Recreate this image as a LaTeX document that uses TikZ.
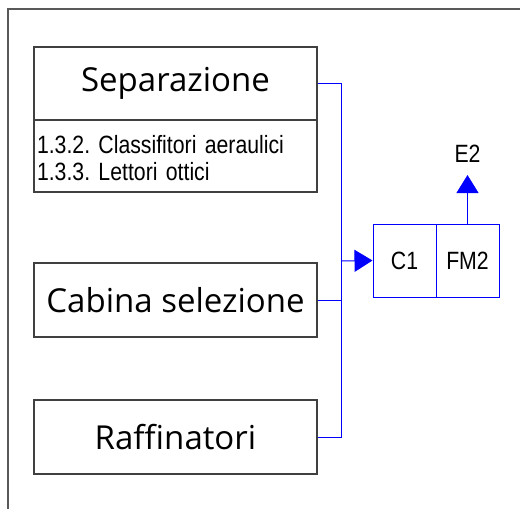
\documentclass[tikz,border=0pt]{standalone}
\usepackage{fontspec}
\setmainfont{Open Sans}
\newfontfamily\arialn[FakeStretch=0.85]{Liberation Sans}
\usetikzlibrary{arrows.meta}
\frenchspacing

\begin{document}
\begin{tikzpicture}
[x=1pt,y=-1pt,
 box/.style={draw=black!75,line width=1.2pt,minimum width=283pt,inner sep=0pt},
 bigbox/.style={box,minimum height=74pt,font=\fontsize{33}{38}\selectfont},
 cell/.style={draw=blue,line width=1pt,minimum width=63pt,minimum height=73pt,inner sep=0pt,font=\arialn\fontsize{25}{26}\selectfont},
 wire/.style={draw=blue,line width=1pt},
 tip/.style={-{Triangle[length=18pt,width=22pt]}}]
\useasboundingbox (0,0) rectangle (520,509);
\draw[black!65,line width=1.5pt] (8,509) -- (8,9) -- (520,9);

\node[bigbox,minimum height=73pt] (sep) at (175.5,83.5) {Separazione};
\node[box,minimum height=72pt,text width=277pt,text height=23pt,align=left,font=\arialn\fontsize{25}{27}\selectfont] (seplist) at (175.5,156) {1.3.2. Classifitori aeraulici\\1.3.3. Lettori ottici};
\node[bigbox] (cab) at (175.5,300) {Cabina selezione};
\node[bigbox] (raff) at (175.5,437) {Raffinatori};

\node[cell] (c1) at (404.5,260.5) {C1};
\node[cell] (fm2) at (467.5,260.5) {FM2};
\node[font=\arialn\fontsize{25}{26}\selectfont] (e2) at (467.5,154) {E2};
\coordinate (e2tip) at (467.5,175);
\coordinate (bus) at (341,261);

\foreach \from in {sep,raff}
\draw[wire] (\from.east) -| (bus);
\draw[wire] (cab.east) -- (cab.east -| bus);
\draw[wire,tip] (bus) -- (c1.west);
\draw[wire,tip] (fm2.north) -- (e2tip);
\end{tikzpicture}
\end{document}
